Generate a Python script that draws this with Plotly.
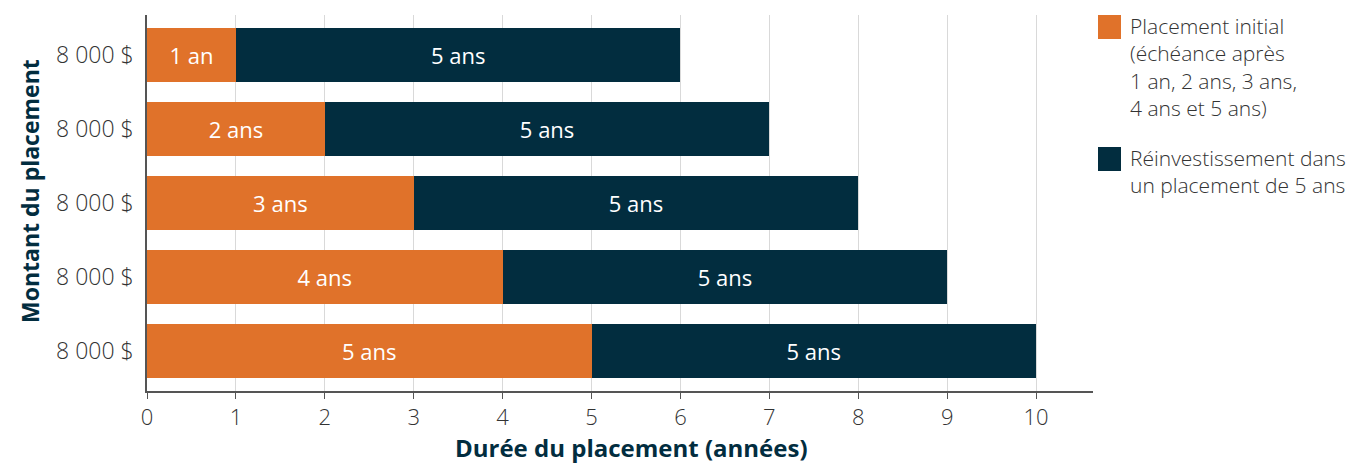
import plotly.graph_objects as go

rows = [0, 1, 2, 3, 4]
row_labels = ["8 000 $"] * 5
initial_years = [1, 2, 3, 4, 5]
initial_text = ["1 an", "2 ans", "3 ans", "4 ans", "5 ans"]
reinvest_years = [5, 5, 5, 5, 5]
reinvest_text = ["5 ans"] * 5
x_ticks = [0, 1, 2, 3, 4, 5, 6, 7, 8, 9, 10]
x_title = "Durée du placement (années)"
y_title = "Montant du placement"

ORANGE = "#e0722a"
NAVY = "#022d3f"
FONT = "Open Sans"

W, H = 1358, 456
L, R, T, B = 139, 273, 7, 73
PW, PH = W - L - R, H - T - B
OFF = 8  # page body margin


def px_x(x):
    return (x - OFF - L) / PW


def px_y(y):
    return 1 - (y - OFF - T) / PH


fig = go.Figure()
fig.add_trace(go.Bar(
    y=rows, x=initial_years, orientation="h", marker_color=ORANGE,
    text=initial_text, textposition="inside", insidetextanchor="middle",
    textfont=dict(color="white", size=22, family=FONT), marker_line_width=0,
    name="Placement initial", showlegend=False, width=0.73,
))
fig.add_trace(go.Bar(
    y=rows, x=reinvest_years, orientation="h", marker_color=NAVY,
    text=reinvest_text, textposition="inside", insidetextanchor="middle",
    textfont=dict(color="white", size=22, family=FONT), marker_line_width=0,
    name="Réinvestissement", showlegend=False, width=0.73,
))

fig.update_layout(
    barmode="stack",
    width=W, height=H,
    margin=dict(l=L, r=R, t=T, b=B, autoexpand=False),
    plot_bgcolor="white", paper_bgcolor="white",
    font=dict(family=FONT, color="#333333"),
    uniformtext=dict(mode=False),
)
fig.update_xaxes(
    range=[0, 10.64], tickvals=x_ticks, showgrid=True, gridcolor="#d9d9d9",
    gridwidth=1, showline=True, linecolor="#555555", linewidth=1.5,
    ticks="outside", ticklen=6, tickcolor="#555555", automargin=False,
    tickfont=dict(size=22, family=FONT, color="#333333", weight=300),
    zeroline=False,
)
fig.update_yaxes(
    range=[4.535, -0.535], tickvals=rows, ticktext=row_labels,
    showgrid=False, showline=True, linecolor="#555555", linewidth=1.5,
    ticks="", ticklabelstandoff=7, automargin=False,
    tickfont=dict(size=23, family=FONT, color="#333333", weight=300),
    zeroline=False,
)

# Axis titles as annotations (placed in page pixels)
fig.add_annotation(xref="paper", yref="paper", x=px_x(631), y=px_y(447),
                   xanchor="center", yanchor="middle", text=x_title, showarrow=False,
                   font=dict(size=24, family=FONT, color=NAVY, weight="bold"))
fig.add_annotation(xref="paper", yref="paper", x=px_x(30), y=px_y(191),
                   xanchor="center", yanchor="middle", text=y_title, showarrow=False,
                   textangle=-90,
                   font=dict(size=23, family=FONT, color=NAVY, weight="bold"))

# Manual legend (coordinates in page pixels)
legend_items = [
    (ORANGE, "Placement initial<br>(échéance après<br>1 an, 2 ans, 3 ans,<br>4 ans et 5 ans)", 15),
    (NAVY, "Réinvestissement dans<br>un placement de 5 ans", 147),
]
for color, label, top in legend_items:
    fig.add_shape(type="rect", xref="paper", yref="paper",
                  x0=px_x(1098), x1=px_x(1121),
                  y0=px_y(top + 24), y1=px_y(top),
                  fillcolor=color, line_width=0)
    fig.add_annotation(xref="paper", yref="paper", x=px_x(1128),
                       y=px_y(top - 5), xanchor="left", yanchor="top",
                       text=label, showarrow=False, align="left",
                       font=dict(size=21, family=FONT, color="#333333", weight=300))

fig.write_html("out.html")
